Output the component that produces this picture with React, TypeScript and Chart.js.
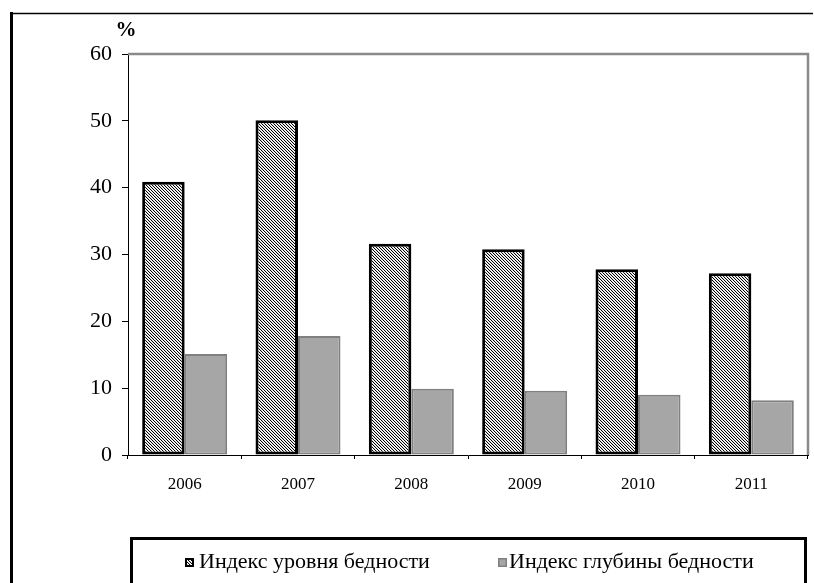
import React, { useEffect, useRef } from "react";
import { Chart, registerables } from "chart.js";

Chart.register(...registerables);

const years = ["2006", "2007", "2008", "2009", "2010", "2011"];
const levelIndex = [40.9, 50.1, 31.6, 30.8, 27.8, 27.2];
const depthIndex = [15.1, 17.8, 9.9, 9.6, 9.0, 8.2];
const legendLabels = ["Индекс уровня бедности", "Индекс глубины бедности"];
const yTitle = "%";

const FONT = "'Liberation Serif', 'Times New Roman', serif";

function makeHatch(): CanvasPattern | string {
  const n = 3;
  const c = document.createElement("canvas");
  c.width = n;
  c.height = n;
  const g = c.getContext("2d");
  if (!g) return "#888";
  g.fillStyle = "#ffffff";
  g.fillRect(0, 0, n, n);
  for (let i = 0; i < n; i++) {
    g.fillStyle = "#000000";
    g.fillRect(i, i, 1, 1);
    g.fillStyle = "#dcdcdc";
    g.fillRect((i + 1) % n, i, 1, 1);
  }
  const p = g.createPattern(c, "repeat");
  return p || "#888";
}

export default function App() {
  const ref = useRef<HTMLCanvasElement | null>(null);

  useEffect(() => {
    const canvas = ref.current;
    if (!canvas) return;
    const hatch = makeHatch();

    const decor = {
      id: "decor",
      beforeDatasetsDraw(chart: any) {
        const { ctx, chartArea } = chart;
        ctx.save();
        ctx.strokeStyle = "#8a8a8a";
        ctx.lineWidth = 2.5;
        ctx.beginPath();
        ctx.moveTo(chartArea.left, chartArea.top);
        ctx.lineTo(chartArea.right, chartArea.top);
        ctx.lineTo(chartArea.right, chartArea.bottom);
        ctx.stroke();
        ctx.restore();
      },
      afterDraw(chart: any) {
        const { ctx } = chart;
        ctx.save();
        ctx.strokeStyle = "#000";
        ctx.lineWidth = 1.5;
        ctx.beginPath();
        ctx.moveTo(10, 13.5);
        ctx.lineTo(813, 13.5);
        ctx.stroke();
        ctx.lineWidth = 3;
        ctx.beginPath();
        ctx.moveTo(11.5, 12);
        ctx.lineTo(11.5, 590);
        ctx.stroke();

        ctx.fillStyle = "#000";
        ctx.font = `bold 21px ${FONT}`;
        ctx.textAlign = "center";
        ctx.textBaseline = "middle";
        ctx.fillText(yTitle, 126, 31);

        ctx.lineWidth = 3;
        ctx.strokeStyle = "#000";
        ctx.beginPath();
        ctx.moveTo(131.5, 600);
        ctx.lineTo(131.5, 538.5);
        ctx.lineTo(805.5, 538.5);
        ctx.lineTo(805.5, 600);
        ctx.stroke();

        ctx.font = `22px ${FONT}`;
        ctx.textAlign = "left";
        ctx.textBaseline = "middle";
        ctx.fillStyle = hatch as any;
        ctx.fillRect(185, 558, 9, 9);
        ctx.lineWidth = 2;
        ctx.strokeStyle = "#000";
        ctx.strokeRect(186, 559, 7, 7);
        ctx.fillStyle = "#000";
        ctx.fillText(legendLabels[0], 199, 562);

        ctx.fillStyle = "#a6a6a6";
        ctx.fillRect(498, 558, 9, 9);
        ctx.lineWidth = 1.5;
        ctx.strokeStyle = "#808080";
        ctx.strokeRect(498.75, 558.75, 7.5, 7.5);
        ctx.fillStyle = "#000";
        ctx.fillText(legendLabels[1], 509, 562);
        ctx.restore();
      },
    };

    const chart = new Chart(canvas, {
      type: "bar",
      data: {
        labels: years,
        datasets: [
          {
            label: legendLabels[0],
            data: levelIndex,
            backgroundColor: hatch as any,
            borderColor: "#000000",
            borderWidth: 3,
            borderSkipped: false,
            categoryPercentage: 0.75,
            barPercentage: 1.0,
          },
          {
            label: legendLabels[1],
            data: depthIndex,
            backgroundColor: "#a6a6a6",
            borderColor: "#808080",
            borderWidth: 2,
            borderSkipped: false,
            categoryPercentage: 0.75,
            barPercentage: 1.0,
          },
        ],
      },
      options: {
        responsive: false,
        animation: false,
        devicePixelRatio: 1,
        layout: { padding: { top: 54, right: 6, left: 0, bottom: 0 } },
        plugins: {
          legend: { display: false },
          tooltip: { enabled: false },
          title: { display: false },
        },
        scales: {
          x: {
            afterFit: (s: any) => {
              s.height = 128;
            },
            grid: {
              display: true,
              drawOnChartArea: false,
              drawTicks: true,
              tickLength: 4,
              color: "#000",
              offset: true,
            },
            border: { display: true, color: "#000", width: 1 },
            ticks: {
              color: "#000",
              font: { family: FONT, size: 17 },
              padding: 15,
              maxRotation: 0,
            },
          },
          y: {
            min: 0,
            max: 60,
            afterFit: (s: any) => {
              s.width = 128;
            },
            grid: {
              display: true,
              drawOnChartArea: false,
              drawTicks: true,
              tickLength: 6,
              color: "#000",
            },
            border: { display: true, color: "#000", width: 1 },
            ticks: {
              stepSize: 10,
              color: "#000",
              font: { family: FONT, size: 22 },
              padding: 10,
            },
          },
        },
      },
      plugins: [decor],
    });

    return () => {
      chart.destroy();
    };
  }, []);

  return (
    <div style={{ position: "absolute", left: 0, top: 0, width: 814, height: 583, background: "#fff" }}>
      <canvas ref={ref} width={814} height={583} style={{ display: "block", width: 814, height: 583 }} />
    </div>
  );
}
